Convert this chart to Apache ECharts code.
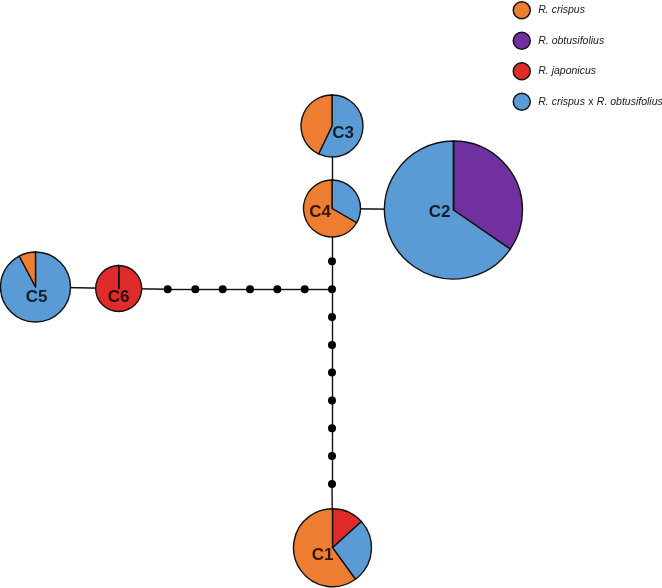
<!DOCTYPE html>
<html><head><meta charset="utf-8">
<script src="https://cdn.jsdelivr.net/npm/echarts@6/dist/echarts.min.js"></script>
<style>html,body{margin:0;padding:0;background:#fff}#c{width:662px;height:588px}</style>
</head><body><div id="c"></div>
<script>
// ---- data ----
const haplotypes = ['C1', 'C2', 'C3', 'C4', 'C5', 'C6'];
// species in clockwise drawing order (from 12 o'clock)
const speciesOrder = ['R. japonicus', 'R. obtusifolius', 'R. crispus x R. obtusifolius', 'R. crispus'];
const legendOrder = ['R. crispus', 'R. obtusifolius', 'R. japonicus', 'R. crispus x R. obtusifolius'];
const japonicus    = [2, 0, 0, 0, 0, 2];
const obtusifolius = [0, 9, 0, 0, 0, 0];
const hybrid       = [4, 17, 4, 1, 12, 0];
const crispus      = [9, 0, 3, 2, 1, 0];
const counts = [japonicus, obtusifolius, hybrid, crispus];

// ---- network layout (node coordinates in the diagram plane) ----
const hapX = [332.5, 453.5, 332, 332, 35.5, 118.7];
const hapY = [547.7, 210, 126, 208.5, 287, 288.5];
const medX = [167.7, 195.3, 222.7, 250, 277.3, 304.7, 332, 332, 332, 332, 332, 332, 332, 332, 332];
const medY = [289.3, 289.3, 289.3, 289.3, 289.3, 289.3, 289.3, 261.3, 317, 345, 372.6, 400.5, 428.3, 456, 484];
const edges = [
  ['C5', 'C6'], ['C6', 'm0'], ['m0', 'm1'], ['m1', 'm2'], ['m2', 'm3'], ['m3', 'm4'], ['m4', 'm5'], ['m5', 'm6'],
  ['m6', 'm7'], ['m7', 'C4'], ['C4', 'C3'], ['C4', 'C2'],
  ['m6', 'm8'], ['m8', 'm9'], ['m9', 'm10'], ['m10', 'm11'], ['m11', 'm12'], ['m12', 'm13'], ['m13', 'm14'], ['m14', 'C1']
];

// ---- styles ----
const hapR = [39, 69, 31, 28.5, 35, 23];
const labelOffset = [[-10, 8], [-14, 2], [11, 7], [-12, 4], [1, 10], [0, 9]];
const colors = {
  'R. crispus': '#ED7D31',
  'R. obtusifolius': '#7030A0',
  'R. japonicus': '#E02B2B',
  'R. crispus x R. obtusifolius': '#5B9BD5'
};
const FONT = 'Liberation Sans, Arial, sans-serif';

const chart = echarts.init(document.getElementById('c'), null, {renderer: 'canvas'});

const nodes = [];
haplotypes.forEach((h, i) => nodes.push({name: h, value: [hapX[i], hapY[i]], symbolSize: 0}));
medX.forEach((x, i) => nodes.push({name: 'm' + i, value: [x, medY[i]], symbolSize: 8}));

chart.setOption({
  animation: false,
  grid: {left: 0, right: 0, top: 0, bottom: 0, containLabel: false},
  xAxis: {type: 'value', min: 0, max: 662, show: false},
  yAxis: {type: 'value', min: 0, max: 588, inverse: true, show: false},
  series: [{
    type: 'graph',
    coordinateSystem: 'cartesian2d',
    layout: 'none',
    z: 1,
    silent: true,
    symbol: 'circle',
    itemStyle: {color: '#000'},
    lineStyle: {color: '#111', width: 1.4, opacity: 1},
    label: {show: false},
    data: nodes,
    links: edges.map(e => ({source: e[0], target: e[1]}))
  }, {
    type: 'scatter',
    z: 5,
    silent: true,
    symbolSize: 0,
    data: haplotypes.map((h, i) => ({
      value: [hapX[i], hapY[i]],
      label: {offset: labelOffset[i]}
    })),
    label: {
      show: true, position: 'inside',
      formatter: p => haplotypes[p.dataIndex],
      fontFamily: FONT, fontWeight: 'bold', fontSize: 17, color: '#000'
    }
  }]
});

const pies = haplotypes.map((h, i) => {
  const c = chart.convertToPixel({xAxisIndex: 0, yAxisIndex: 0}, [hapX[i], hapY[i]]);
  return {
    type: 'pie',
    name: h,
    z: 3,
    silent: true,
    center: c,
    radius: [0, hapR[i]],
    startAngle: 90,
    clockwise: true,
    avoidLabelOverlap: false,
    label: {show: false},
    labelLine: {show: false},
    itemStyle: {borderColor: '#111', borderWidth: 1.4},
    emphasis: {disabled: true},
    data: speciesOrder.map((s, k) => ({name: s, value: counts[k][i], itemStyle: {color: colors[s]}}))
  };
});

chart.setOption({
  legend: {
    orient: 'vertical',
    left: 512.5,
    top: 1,
    padding: 0,
    itemWidth: 23,
    itemHeight: 17,
    itemGap: 12,
    icon: 'circle',
    data: legendOrder,
    itemStyle: {borderColor: '#111', borderWidth: 1.5},
    selectedMode: false,
    formatter: name => name.indexOf(' x ') >= 0
      ? '{i|R. crispus} {n|x} {i|R. obtusifolius}'
      : '{i|' + name + '}',
    textStyle: {
      rich: {
        i: {fontFamily: FONT, fontStyle: 'italic', fontSize: 10.5, color: '#1a1a1a', height: 17},
        n: {fontFamily: FONT, fontSize: 10.5, color: '#1a1a1a', height: 17}
      }
    }
  },
  series: chart.getOption().series.concat(pies)
});
</script>
</body></html>
